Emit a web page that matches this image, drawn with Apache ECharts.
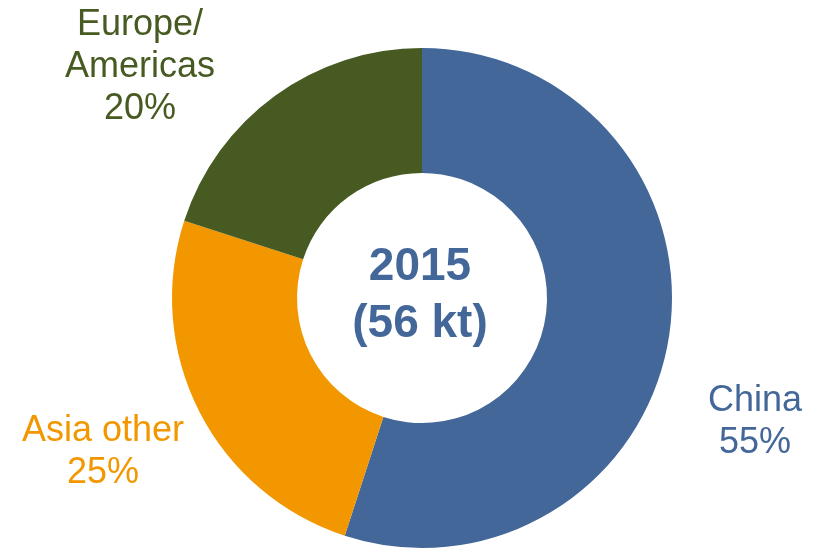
<!DOCTYPE html>
<html>
<head>
<meta charset="utf-8">
<script src="https://cdn.jsdelivr.net/npm/echarts@6/dist/echarts.min.js"></script>
<style>
  html, body { margin: 0; padding: 0; background: #fff; }
  #chart { width: 819px; height: 549px; }
</style>
</head>
<body>
<div id="chart"></div>
<script>
// data
const regions = ['China', 'Asia other', 'Europe/Americas']
const shares = [55, 25, 20]
const centerLines = ['2015', '(56 kt)']

const colors = ['#446799', '#f39700', '#475a22']
// label centres, px
const labelPos = [[755, 422], [103, 452], [140, 67]]

const chart = echarts.init(document.getElementById('chart'))

const option = {
  animation: false,
  backgroundColor: '#fff',
  series: [
    {
      type: 'pie',
      center: [422, 298],
      radius: [125, 250],
      startAngle: 90,
      clockwise: true,
      avoidLabelOverlap: false,
      data: regions.map((name, i) => ({
        name,
        value: shares[i],
        itemStyle: { color: colors[i] },
        label: { color: colors[i] }
      })),
      label: {
        show: true,
        position: 'outside',
        fontFamily: 'Liberation Sans, Arial, sans-serif',
        fontSize: 36,
        lineHeight: 42,
        align: 'center',
        formatter: (p) => p.name.replace('/', '/\n') + '\n' + Math.round(p.percent) + '%'
      },
      labelLine: { show: false },
      labelLayout: (params) => ({
        x: labelPos[params.dataIndex][0],
        y: labelPos[params.dataIndex][1],
        align: 'center',
        verticalAlign: 'middle'
      }),
      emphasis: { disabled: true }
    }
  ],
  graphic: [
    {
      type: 'text',
      x: 420,
      y: 296,
      style: {
        text: centerLines.join('\n'),
        align: 'center',
        verticalAlign: 'middle',
        fill: '#446799',
        font: 'bold 46px "Liberation Sans", Arial, sans-serif',
        lineHeight: 57
      }
    }
  ]
}

chart.setOption(option)
</script>
</body>
</html>
